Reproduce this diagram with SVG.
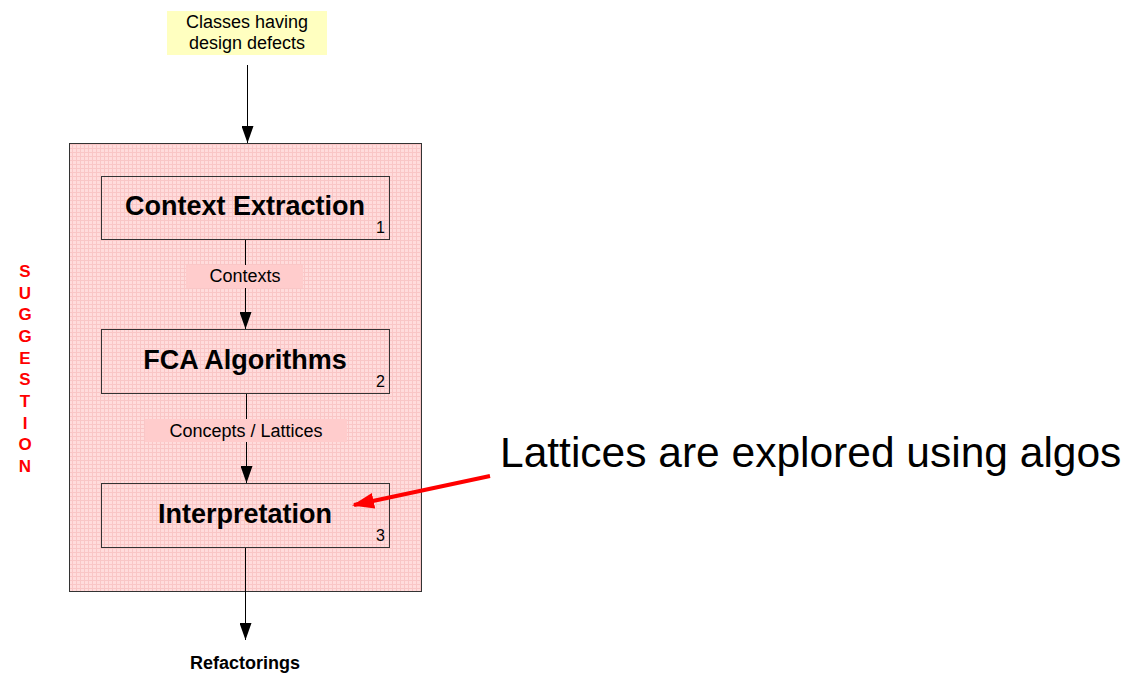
<svg xmlns="http://www.w3.org/2000/svg" width="1144" height="674" viewBox="0 0 1144 674">
<style>
.box{fill:url(#grid);stroke:#333;stroke-width:1}
.title{font-family:"Liberation Sans",Arial,sans-serif;font-weight:bold;font-size:27px;text-anchor:middle;fill:#000}
.num{font-family:"Liberation Sans",Arial,sans-serif;font-size:16px;text-anchor:end;fill:#000}
.lbl{font-family:"Liberation Sans",Arial,sans-serif;font-size:18px;text-anchor:middle;fill:#000}
.lblbg{fill:#FFCCCC}
.conn{stroke:#000;stroke-width:1;fill:none;marker-end:url(#ah)}
.sug{font-family:"Liberation Sans",Arial,sans-serif;font-weight:bold;font-size:17px;text-anchor:middle;fill:#FF0000}
</style>
<defs>
<pattern id="grid" width="4" height="4" patternUnits="userSpaceOnUse">
<rect width="4" height="4" fill="#FFDCDC"/>
<path d="M0 0.5H4M0.5 0V4" stroke="#F9C6C6" stroke-width="1"/>
</pattern>
<marker id="ah" markerWidth="17" markerHeight="12" refX="17" refY="6" orient="auto" markerUnits="userSpaceOnUse" viewBox="0 0 17 12">
<path d="M0 0L17 6L0 12z" fill="#000"/>
</marker>
<marker id="rah" markerWidth="22" markerHeight="16" refX="20" refY="8" orient="auto" markerUnits="userSpaceOnUse" viewBox="0 0 22 16">
<path d="M0 0L22 8L0 16z" fill="#FF0000"/>
</marker>
</defs>
<rect width="1144" height="674" fill="#fff"/>

<g id="input">
<rect x="167" y="11" width="160" height="44" fill="#FFFFC0"/>
<text class="lbl" x="247" y="28">Classes having</text>
<text class="lbl" x="247" y="49">design defects</text>
</g>

<g id="container">
<rect class="box" x="69.5" y="143.5" width="352" height="448"/>
</g>

<g id="n1">
<rect class="box" x="101.5" y="176.5" width="288" height="63"/>
<text class="title" x="245" y="215">Context Extraction</text>
<text class="num" x="385" y="233">1</text>
</g>
<g id="n2">
<rect class="box" x="101.5" y="329.5" width="288" height="64"/>
<text class="title" x="245" y="369">FCA Algorithms</text>
<text class="num" x="385" y="387">2</text>
</g>
<g id="n3">
<rect class="box" x="101.5" y="483.5" width="288" height="64"/>
<text class="title" x="245" y="523">Interpretation</text>
<text class="num" x="385" y="541">3</text>
</g>

<g id="connectors">
<line class="conn" x1="247.5" y1="65" x2="247.5" y2="143"/>
<line class="conn" x1="245.5" y1="240" x2="245.5" y2="329"/>
<line class="conn" x1="246.5" y1="394" x2="246.5" y2="483"/>
<line class="conn" x1="245.5" y1="548" x2="245.5" y2="640"/>
<line x1="490" y1="476" x2="354" y2="505" stroke="#FF0000" stroke-width="4" marker-end="url(#rah)"/>
</g>

<g id="label-contexts">
<rect class="lblbg" x="186" y="265" width="117" height="23"/>
<text class="lbl" x="245" y="282">Contexts</text>
</g>
<g id="label-concepts">
<rect class="lblbg" x="145" y="419" width="202" height="23"/>
<text class="lbl" x="246" y="437">Concepts / Lattices</text>
</g>

<g id="output">
<text class="lbl" x="245" y="669" font-weight="bold">Refactorings</text>
</g>

<g id="suggestion">
<text class="sug" x="25" y="277">S</text>
<text class="sug" x="25" y="299">U</text>
<text class="sug" x="25" y="320">G</text>
<text class="sug" x="25" y="342">G</text>
<text class="sug" x="25" y="364">E</text>
<text class="sug" x="25" y="385">S</text>
<text class="sug" x="25" y="407">T</text>
<text class="sug" x="25" y="429">I</text>
<text class="sug" x="25" y="450">O</text>
<text class="sug" x="25" y="472">N</text>
</g>

<g id="note">
<text x="500" y="467" font-family="'Liberation Sans',Arial,sans-serif" font-size="42.5" fill="#000">Lattices are explored using algos</text>
</g>
</svg>
